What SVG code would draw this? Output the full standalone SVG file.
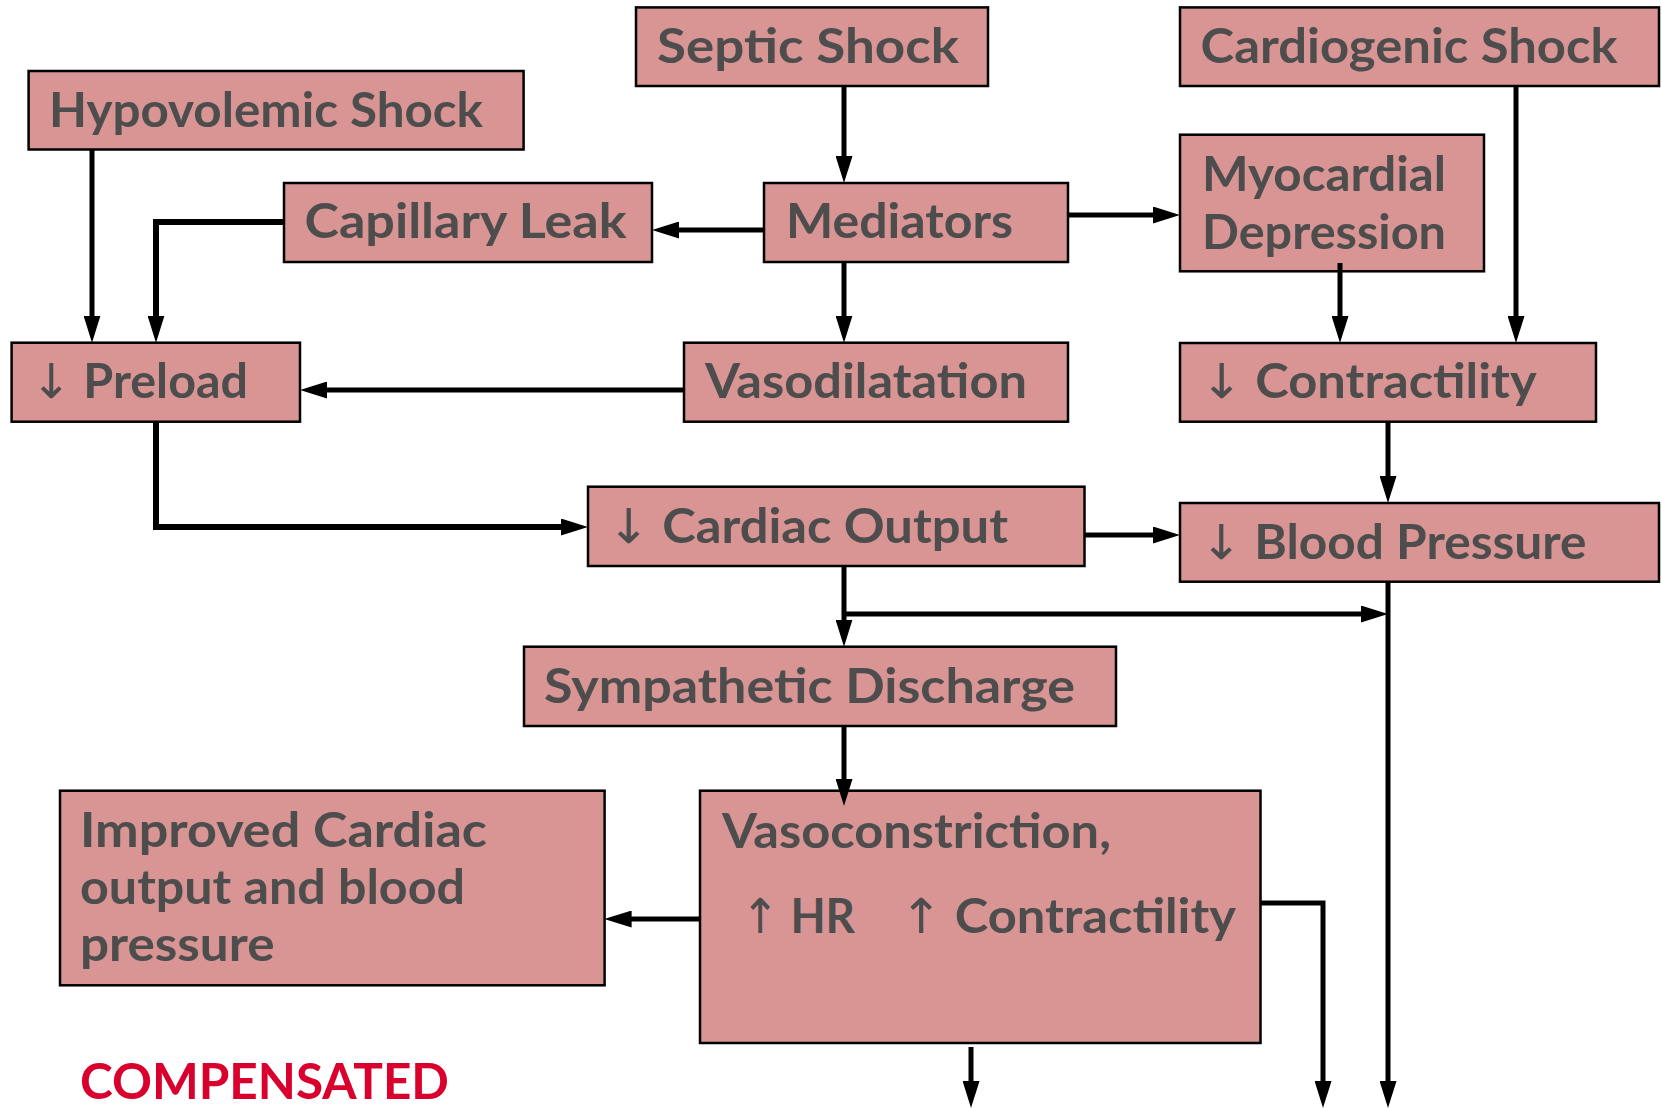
<svg xmlns="http://www.w3.org/2000/svg" width="1662" height="1108" viewBox="0 0 1662 1108">
<style>
.box{fill:#D99594;stroke:#000;stroke-width:2.5}
.t{font-family:Lato,"Noto Sans","DejaVu Sans",sans-serif;font-weight:700;font-size:48px;fill:#4D4D4D}
.ar{font-family:"DejaVu Sans",sans-serif;font-weight:400}
.c{fill:none;stroke:#000;stroke-width:5}
.thick{stroke-width:6}
.red{font-family:Lato,"Noto Sans",sans-serif;font-weight:700;font-size:49px;fill:#D9002E}
</style>
<defs>
<marker id="ah" markerUnits="userSpaceOnUse" markerWidth="27" markerHeight="17" refX="13" refY="8.5" orient="auto">
<path d="M0,0 L27,8.5 L0,17 Z" fill="#000"/>
</marker>
</defs>
<rect width="1662" height="1108" fill="#fff"/>
<g id="hypovolemic"><rect class="box" x="28.6" y="71" width="495" height="78.5"/><text class="t" x="49" y="127" textLength="434" lengthAdjust="spacingAndGlyphs">Hypovolemic Shock</text></g>
<g id="septic"><rect class="box" x="636" y="7.4" width="352" height="78.6"/><text class="t" x="657" y="63" textLength="302" lengthAdjust="spacingAndGlyphs">Septic Shock</text></g>
<g id="cardiogenic"><rect class="box" x="1180" y="7.4" width="479" height="78.6"/><text class="t" x="1200.6" y="63" textLength="417" lengthAdjust="spacingAndGlyphs">Cardiogenic Shock</text></g>
<g id="capillary"><rect class="box" x="284" y="183" width="368" height="79"/><text class="t" x="304.5" y="238" textLength="322" lengthAdjust="spacingAndGlyphs">Capillary Leak</text></g>
<g id="mediators"><rect class="box" x="764" y="183" width="304" height="79"/><text class="t" x="786" y="238" textLength="227" lengthAdjust="spacingAndGlyphs">Mediators</text></g>
<g id="myocardial"><rect class="box" x="1180" y="134.7" width="304" height="136.6"/><text class="t" x="1202" y="190.6" textLength="244" lengthAdjust="spacingAndGlyphs">Myocardial</text><text class="t" x="1202" y="248.8" textLength="244" lengthAdjust="spacingAndGlyphs">Depression</text></g>
<g id="preload"><rect class="box" x="11.6" y="342.7" width="288.4" height="79"/><text class="t" x="31" y="398" textLength="217" lengthAdjust="spacingAndGlyphs"><tspan class="ar">↓</tspan> Preload</text></g>
<g id="vasodilatation"><rect class="box" x="684" y="342.7" width="384" height="79"/><text class="t" x="705" y="398" textLength="322" lengthAdjust="spacingAndGlyphs">Vasodilatation</text></g>
<g id="contractility"><rect class="box" x="1180" y="343" width="416" height="78.7"/><text class="t" x="1200.6" y="398" textLength="336" lengthAdjust="spacingAndGlyphs"><tspan class="ar">↓</tspan> Contractility</text></g>
<g id="cardiac-output"><rect class="box" x="588" y="486.7" width="496.5" height="79.3"/><text class="t" x="607.5" y="542.7" textLength="400.5" lengthAdjust="spacingAndGlyphs"><tspan class="ar">↓</tspan> Cardiac Output</text></g>
<g id="blood-pressure"><rect class="box" x="1180" y="503" width="479" height="78.7"/><text class="t" x="1200.6" y="558.7" textLength="386" lengthAdjust="spacingAndGlyphs"><tspan class="ar">↓</tspan> Blood Pressure</text></g>
<g id="sympathetic"><rect class="box" x="524" y="646.7" width="592" height="79.3"/><text class="t" x="544" y="703" textLength="531" lengthAdjust="spacingAndGlyphs">Sympathetic Discharge</text></g>
<g id="improved"><rect class="box" x="60" y="790.7" width="544.6" height="194.6"/><text class="t" x="80" y="846.7" textLength="407" lengthAdjust="spacingAndGlyphs">Improved Cardiac</text><text class="t" x="80" y="904" textLength="385" lengthAdjust="spacingAndGlyphs">output and blood</text><text class="t" x="80" y="961" textLength="194.5" lengthAdjust="spacingAndGlyphs">pressure</text></g>
<g id="vasoconstriction"><rect class="box" x="700" y="790.7" width="560.5" height="252.3"/><text class="t" x="722" y="848" textLength="389" lengthAdjust="spacingAndGlyphs">Vasoconstriction,</text><text class="t" y="933"><tspan x="741" textLength="114" lengthAdjust="spacingAndGlyphs"><tspan class="ar">↑</tspan> HR</tspan><tspan x="900" textLength="336" lengthAdjust="spacingAndGlyphs"><tspan class="ar">↑</tspan> Contractility</tspan></text></g>
<text id="compensated" class="red" x="80" y="1099" textLength="369" lengthAdjust="spacingAndGlyphs">COMPENSATED</text>
<g id="connectors">
<path class="c" d="M844,86 V169" marker-end="url(#ah)"/>
<path class="c" d="M764,230 H666" marker-end="url(#ah)"/>
<path class="c" d="M1068,215 H1166" marker-end="url(#ah)"/>
<path class="c" d="M844,262 V328.7" marker-end="url(#ah)"/>
<path class="c" d="M684,390 H314" marker-end="url(#ah)"/>
<path class="c" d="M92,149.5 V328.7" marker-end="url(#ah)"/>
<path class="c thick" d="M284,222 H156 V328.7" marker-end="url(#ah)"/>
<path class="c" d="M1516,86 V329" marker-end="url(#ah)"/>
<path class="c" d="M1340,263 V329" marker-end="url(#ah)"/>
<path class="c" d="M1388,421.7 V489" marker-end="url(#ah)"/>
<path class="c thick" d="M156,421.7 V527 H574" marker-end="url(#ah)"/>
<path class="c" d="M1084.5,535 H1166" marker-end="url(#ah)"/>
<path class="c" d="M844,566 V632.7" marker-end="url(#ah)"/>
<path class="c" d="M844,614 H1374" marker-end="url(#ah)"/>
<path class="c" d="M1388,581.7 V1094" marker-end="url(#ah)"/>
<path class="c" d="M844,726 V792" marker-end="url(#ah)"/>
<path class="c" d="M700,919 H618.6" marker-end="url(#ah)"/>
<path class="c" d="M1260.5,903 H1323 V1094" marker-end="url(#ah)"/>
<path class="c" d="M971,1047 V1094" marker-end="url(#ah)"/>
</g>
</svg>
